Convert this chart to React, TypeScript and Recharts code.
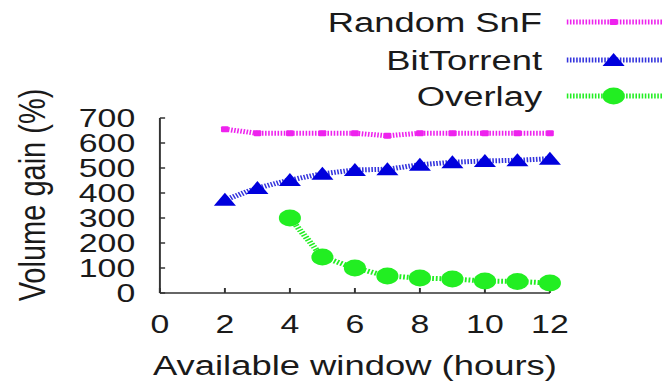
import React from 'react';
import { LineChart, Line, XAxis, YAxis, Label } from 'recharts';

// Available window (hours) on the x axis
const hours = [2, 3, 4, 5, 6, 7, 8, 9, 10, 11, 12];
// Volume gain (%) per scheme
const randomSnF = [655, 639, 639, 639, 639, 629, 639, 639, 639, 639, 639];
const bitTorrent = [373, 420, 452, 477, 492, 495, 513, 523, 528, 531, 537];
const overlay = [null, null, 300, 144, 100, 68, 60, 56, 48, 46, 40];

const xTicks = [0, 2, 4, 6, 8, 10, 12];
const yTicks = [0, 100, 200, 300, 400, 500, 600, 700];

const data = hours.map((h, i) => ({
    hours: h,
    random: randomSnF[i],
    bittorrent: bitTorrent[i],
    overlay: overlay[i],
}));

const FONT = '"Liberation Sans", Arial, Helvetica, sans-serif';
const STRETCH = 1.3;
const W = 510;
const H = 382;

const PINK = '#ee22ee';
const BLUE = '#0000dd';
const GREEN = '#22ee22';

const SquareDot = (props: any) => {
    const { cx, cy } = props;
    if (cx == null || cy == null) return null;
    return <rect x={cx - 3} y={cy - 3} width={6} height={6} rx={1} fill={PINK} />;
};

const TriangleDot = (props: any) => {
    const { cx, cy } = props;
    if (cx == null || cy == null) return null;
    return (
        <polygon
            points={`${cx},${cy - 7} ${cx - 8.5},${cy + 6} ${cx + 8.5},${cy + 6}`}
            fill={BLUE}
        />
    );
};

const CircleDot = (props: any) => {
    const { cx, cy } = props;
    if (cx == null || cy == null) return null;
    return <circle cx={cx} cy={cy} r={8.5} fill={GREEN} />;
};

const tickStyle = { fontSize: 26, fill: '#1a1a1a', fontFamily: FONT };

function LegendBox() {
    const rows = [
        { name: 'Random SnF', color: PINK, y: 22, Dot: SquareDot },
        { name: 'BitTorrent', color: '#3333dd', y: 60, Dot: TriangleDot },
        { name: 'Overlay', color: GREEN, y: 96, Dot: CircleDot },
    ];
    return (
        <svg width={W} height={120} style={{ position: 'absolute', left: 0, top: 0 }}>
            {rows.map(({ name, color, y, Dot }) => (
                <g key={name}>
                    <text
                        x={417}
                        y={y + 10}
                        textAnchor="end"
                        fontSize={28}
                        fontFamily={FONT}
                        fill="#1a1a1a"
                    >
                        {name}
                    </text>
                    <line
                        x1={436}
                        x2={510}
                        y1={y}
                        y2={y}
                        stroke={color}
                        strokeWidth={5}
                        strokeDasharray="1.2 1.2"
                    />
                    <Dot cx={472} cy={y} />
                </g>
            ))}
        </svg>
    );
}

export default function App() {
    return (
        <div
            style={{
                position: 'absolute',
                left: 0,
                top: 0,
                width: W,
                height: H,
                background: '#fff',
                transform: `scaleX(${STRETCH})`,
                transformOrigin: '0 0',
            }}
        >
            <LineChart
                width={W}
                height={H}
                data={data}
                margin={{ top: 118, right: 87, bottom: 0, left: 0 }}
            >
                <XAxis
                    dataKey="hours"
                    type="number"
                    domain={[0, 12]}
                    ticks={xTicks}
                    interval={0}
                    height={89}
                    stroke="#333"
                    strokeWidth={1.5}
                    tickSize={-5}
                    tickMargin={27}
                    tick={tickStyle}
                >
                    <Label
                        content={() => (
                            <text
                                x={273}
                                y={375}
                                textAnchor="middle"
                                fontSize={28}
                                fontFamily={FONT}
                                fill="#1a1a1a"
                            >
                                Available window (hours)
                            </text>
                        )}
                    />
                </XAxis>
                <YAxis
                    type="number"
                    domain={[0, 700]}
                    ticks={yTicks}
                    interval={0}
                    width={123}
                    stroke="#333"
                    strokeWidth={1.5}
                    tickSize={-4}
                    tickMargin={23}
                    tick={tickStyle}
                >
                    <Label
                        content={() => (
                            <text
                                transform="translate(25,195) rotate(-90)"
                                textAnchor="middle"
                                dominantBaseline="central"
                                fontSize={29}
                                fontFamily={FONT}
                                fill="#1a1a1a"
                            >
                                Volume gain (%)
                            </text>
                        )}
                    />
                </YAxis>
                <Line
                    dataKey="random"
                    stroke={PINK}
                    strokeWidth={5}
                    strokeDasharray="1.2 1.2"
                    dot={<SquareDot />}
                    isAnimationActive={false}
                />
                <Line
                    dataKey="bittorrent"
                    stroke="#3333dd"
                    strokeWidth={5}
                    strokeDasharray="1.2 1.2"
                    dot={<TriangleDot />}
                    isAnimationActive={false}
                />
                <Line
                    dataKey="overlay"
                    stroke={GREEN}
                    strokeWidth={5}
                    strokeDasharray="1.4 1.4"
                    dot={<CircleDot />}
                    isAnimationActive={false}
                />
            </LineChart>
            <LegendBox />
        </div>
    );
}
